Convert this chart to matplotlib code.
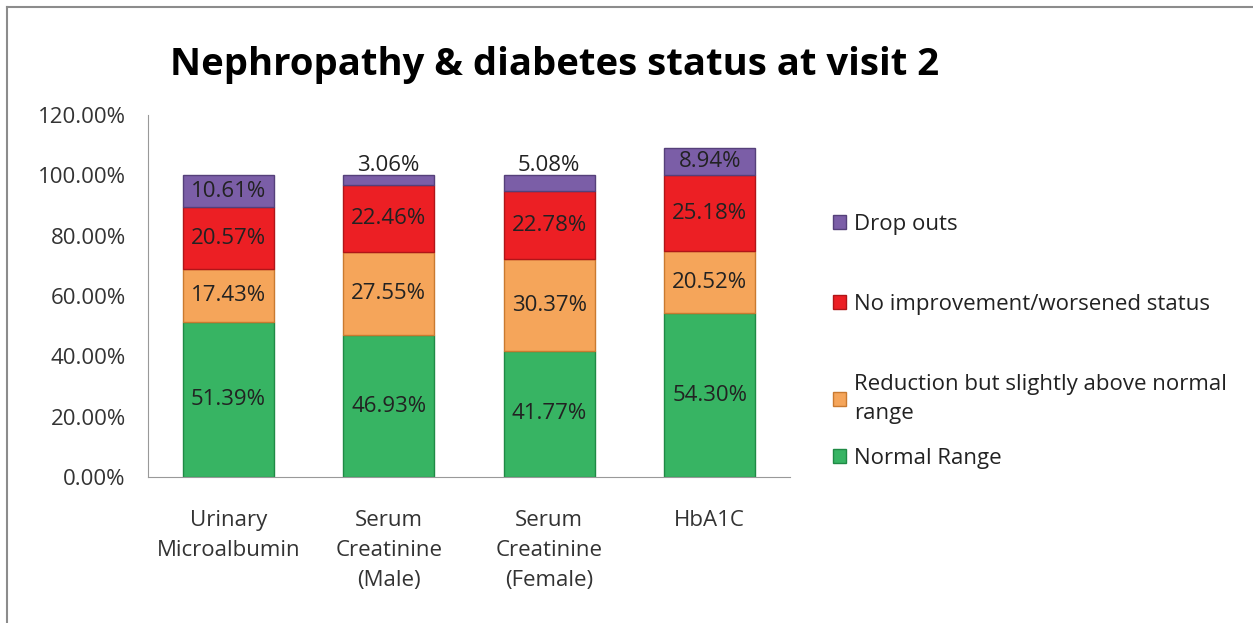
import numpy as np
import matplotlib
matplotlib.use("Agg")
import matplotlib.pyplot as plt
from matplotlib.lines import Line2D

categories = ["Urinary\nMicroalbumin", "Serum\nCreatinine\n(Male)",
              "Serum\nCreatinine\n(Female)", "HbA1C"]
normal_range = [51.39, 46.93, 41.77, 54.30]
reduction = [17.43, 27.55, 30.37, 20.52]
no_improvement = [20.57, 22.46, 22.78, 25.18]
drop_outs = [10.61, 3.06, 5.08, 8.94]

series_names = ["Normal Range", "Reduction but slightly above normal\nrange",
                "No improvement/worsened status", "Drop outs"]
yticks = [0, 20, 40, 60, 80, 100, 120]

W, H = 1253, 623


def main():
    plt.rcParams['font.family'] = ['Open Sans', 'DejaVu Sans']
    fig = plt.figure(figsize=(W / 100, H / 100), dpi=100)
    # gray frame: top and left edges only are visible in the reference
    fig.lines.append(Line2D([7 / W, 7 / W], [0, 1 - 7 / H], transform=fig.transFigure,
                            color='#8c8c8c', linewidth=1.5))
    fig.lines.append(Line2D([7 / W, 1], [1 - 7 / H, 1 - 7 / H], transform=fig.transFigure,
                            color='#8c8c8c', linewidth=1.5))

    ax = fig.add_axes([148 / W, 1 - 477 / H, (790 - 148) / W, (477 - 115) / H])

    x = np.arange(len(categories))
    data = [normal_range, reduction, no_improvement, drop_outs]
    colors = ['#37b463', '#f5a55a', '#ec1f24', '#7b5ea7']
    edges = ['#1f8a45', '#c97a30', '#b01518', '#55407a']
    bottom = np.zeros(len(categories))
    handles = []
    for vals, col, ec, name in zip(data, colors, edges, series_names):
        vals = np.array(vals)
        bars = ax.bar(x, vals, 0.565, bottom=bottom, color=col, edgecolor=ec,
                      linewidth=1.0, label=name)
        handles.append(bars)
        for xi, b, v in zip(x, bottom, vals):
            if v < 6:
                ty = b + v + 3.3
            else:
                ty = b + v / 2
            ax.text(xi, ty, f"{v:.2f}%", ha='center', va='center',
                    fontsize=16, color='#222222')
        bottom += vals

    ax.set_xlim(-0.5, 3.5)
    ax.set_ylim(0, 120)
    ax.set_yticks(yticks)
    ax.set_yticklabels([f"{t:.2f}%" for t in yticks], fontsize=16, color='#333333')
    ax.set_xticks(x)
    ax.set_xticklabels(categories, fontsize=16, color='#333333', linespacing=1.55)
    ax.tick_params(axis='x', length=0, pad=24)
    ax.tick_params(axis='y', length=0, pad=16)
    for s in ['top', 'right']:
        ax.spines[s].set_visible(False)
    for s in ['left', 'bottom']:
        ax.spines[s].set_color('#999999')

    fig.text(170 / W, 1 - 65 / H, "Nephropathy & diabetes status at visit 2",
             fontsize=27.5, fontweight='bold', ha='left', va='center')

    # first three entries evenly spaced, "Normal Range" sits closer below
    leg1 = fig.legend(handles[:0:-1], series_names[:0:-1], loc='upper left',
                      bbox_to_anchor=(833 / W, 1 - 214 / H), frameon=False,
                      fontsize=16, labelspacing=2.65, handlelength=0.6,
                      handleheight=0.6, handletextpad=0.35, borderpad=0,
                      borderaxespad=0)
    leg2 = fig.legend(handles[:1], series_names[:1], loc='upper left',
                      bbox_to_anchor=(833 / W, 1 - 448 / H), frameon=False,
                      fontsize=16, handlelength=0.6, handleheight=0.6,
                      handletextpad=0.35, borderpad=0, borderaxespad=0)
    for leg in (leg1, leg2):
        for t in leg.get_texts():
            t.set_color('#222222')
            t.set_linespacing(1.5)

    fig.savefig("out.png", dpi=100)


if __name__ == '__main__':
    main()
